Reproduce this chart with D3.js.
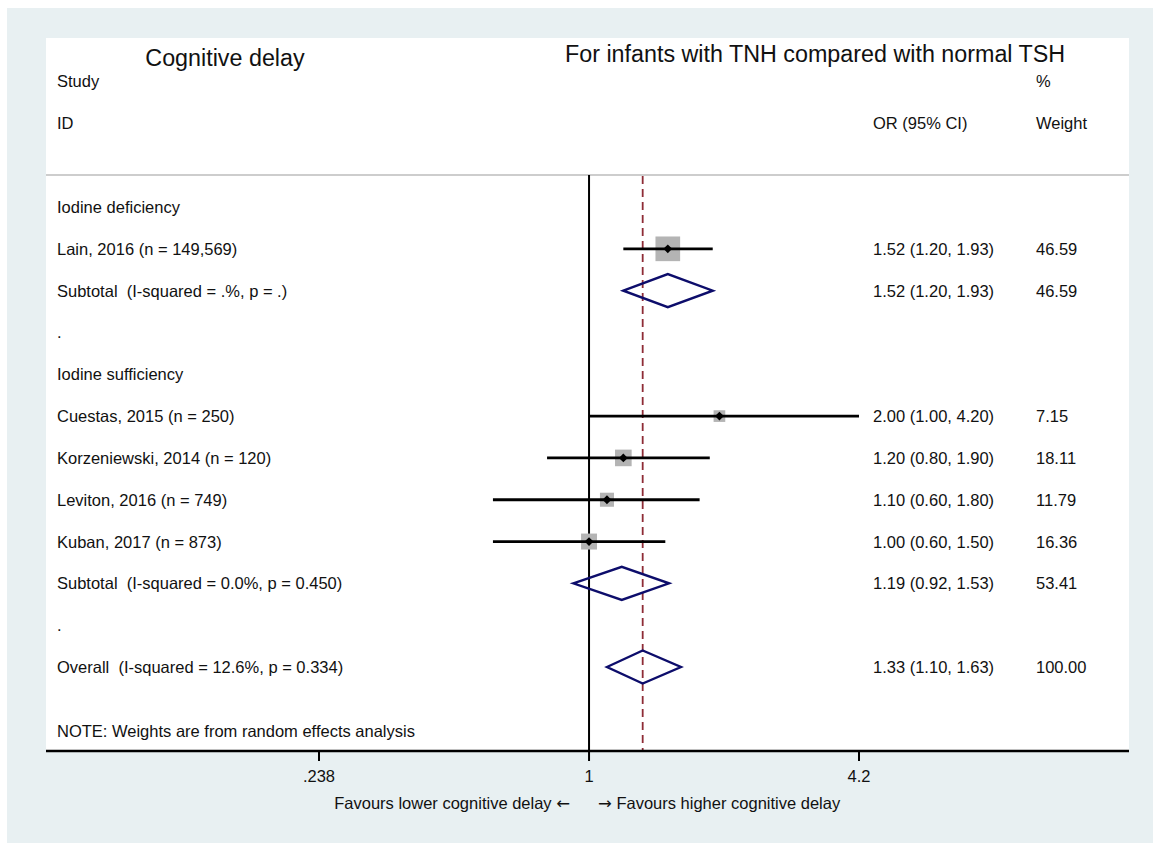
<!DOCTYPE html>
<html>
<head>
<meta charset="utf-8">
<script src="https://cdn.jsdelivr.net/npm/d3@7"></script>
<style>
  html, body { margin: 0; padding: 0; background: #ffffff; }
  svg { display: block; }
  text { font-family: "Liberation Sans", Arial, sans-serif; fill: #111; white-space: pre; }
  tspan.arrow { font-family: "DejaVu Sans", sans-serif; }
</style>
</head>
<body>
<svg id="chart" width="1153" height="843"></svg>
<script>
// Row labels, in display order
const rowLabels = [
  "Iodine deficiency",
  "Lain, 2016 (n = 149,569)",
  "Subtotal  (I-squared = .%, p = .)",
  ".",
  "Iodine sufficiency",
  "Cuestas, 2015 (n = 250)",
  "Korzeniewski, 2014 (n = 120)",
  "Leviton, 2016 (n = 749)",
  "Kuban, 2017 (n = 873)",
  "Subtotal  (I-squared = 0.0%, p = 0.450)",
  ".",
  "Overall  (I-squared = 12.6%, p = 0.334)"
];
// Row kind: h = heading, s = study, d = pooled diamond, b = blank
const rowKinds = ["h", "s", "d", "b", "h", "s", "s", "s", "s", "d", "b", "d"];
// Odds ratios with 95% CI (null for text-only rows)
const orEst   = [null, 1.52, 1.52, null, null, 2.00, 1.20, 1.10, 1.00, 1.19, null, 1.33];
const orLower = [null, 1.20, 1.20, null, null, 1.00, 0.80, 0.60, 0.60, 0.92, null, 1.10];
const orUpper = [null, 1.93, 1.93, null, null, 4.20, 1.90, 1.80, 1.50, 1.53, null, 1.63];
const weights = [null, 46.59, 46.59, null, null, 7.15, 18.11, 11.79, 16.36, 53.41, null, 100.00];
// Axis ticks
const tickValues = [0.238, 1, 4.2];
const tickLabels = [".238", "1", "4.2"];

const title = "Cognitive delay";
const subtitle = "For infants with TNH compared with normal TSH";
const note = "NOTE: Weights are from random effects analysis";
const xLabelLeft = "Favours lower cognitive delay ";
const xLabelRight = " Favours higher cognitive delay";

const svg = d3.select("#chart");
const W = 1153, H = 843;
const FS = "16.5px";

// Outer region and white plot region
svg.append("rect").attr("x", 7).attr("y", 8).attr("width", W - 7).attr("height", H - 8)
  .attr("fill", "#e8f0f2");
const plot = { left: 46, right: 1129, top: 38, bottom: 751 };
svg.append("rect").attr("x", plot.left).attr("y", plot.top)
  .attr("width", plot.right - plot.left).attr("height", plot.bottom - plot.top)
  .attr("fill", "#ffffff");

// Scales
const x = d3.scaleLog().domain([0.238, 4.2]).range([319, 859]);
const y = d3.scaleLinear().domain([0, 11]).range([207, 667]);
const boxSide = d3.scaleSqrt().domain([0, 100]).range([3.3, 34.6]);

const fmt = d3.format(".2f");
const colLeft = 57, colOR = 873, colW = 1036;

// Titles and column headers
svg.append("text").attr("x", 225).attr("y", 58).attr("text-anchor", "middle")
  .attr("dominant-baseline", "central").style("font-size", "23.3px").text(title);
svg.append("text").attr("x", 565).attr("y", 54).attr("dominant-baseline", "central")
  .style("font-size", "23.3px").text(subtitle);
const hdr = [
  [colLeft, 81, "Study"], [colLeft, 123, "ID"],
  [colOR, 123, "OR (95% CI)"], [colW, 81, "%"], [colW, 123, "Weight"]
];
svg.selectAll("text.hdr").data(hdr).join("text").attr("class", "hdr")
  .attr("x", d => d[0]).attr("y", d => d[1]).attr("dominant-baseline", "central")
  .style("font-size", FS).text(d => d[2]);

// Header separator
svg.append("line").attr("x1", plot.left).attr("x2", plot.right)
  .attr("y1", 175).attr("y2", 175).attr("stroke", "#bcbcbc").attr("stroke-width", 1.6);

// Null line and pooled-estimate line
svg.append("line").attr("x1", x(1)).attr("x2", x(1)).attr("y1", 175).attr("y2", plot.bottom)
  .attr("stroke", "#000").attr("stroke-width", 2);
svg.append("line").attr("x1", x(orEst[11])).attr("x2", x(orEst[11]))
  .attr("y1", 176).attr("y2", plot.bottom)
  .attr("stroke", "#8e2c36").attr("stroke-width", 1.8).attr("stroke-dasharray", "8,5");

const rows = rowLabels.map((label, i) => ({
  label, kind: rowKinds[i], est: orEst[i], lo: orLower[i], hi: orUpper[i], w: weights[i], i
}));

// Row labels
svg.selectAll("text.lab").data(rows).join("text").attr("class", "lab")
  .attr("x", colLeft).attr("y", d => y(d.i)).attr("dominant-baseline", "central")
  .style("font-size", FS).text(d => d.label);

const est = rows.filter(d => d.est !== null);
svg.selectAll("text.or").data(est).join("text").attr("class", "or")
  .attr("x", colOR).attr("y", d => y(d.i)).attr("dominant-baseline", "central")
  .style("font-size", FS)
  .text(d => `${fmt(d.est)} (${fmt(d.lo)}, ${fmt(d.hi)})`);
svg.selectAll("text.wt").data(est).join("text").attr("class", "wt")
  .attr("x", colW).attr("y", d => y(d.i)).attr("dominant-baseline", "central")
  .style("font-size", FS).text(d => fmt(d.w));

// Study estimates: weighted boxes, CI lines, point markers
const studies = rows.filter(d => d.kind === "s");
svg.selectAll("rect.box").data(studies).join("rect").attr("class", "box")
  .attr("x", d => x(d.est) - boxSide(d.w) / 2).attr("y", d => y(d.i) - boxSide(d.w) / 2)
  .attr("width", d => boxSide(d.w)).attr("height", d => boxSide(d.w))
  .attr("fill", "#b4b4b4");
svg.selectAll("line.ci").data(studies).join("line").attr("class", "ci")
  .attr("x1", d => x(d.lo)).attr("x2", d => x(d.hi))
  .attr("y1", d => y(d.i)).attr("y2", d => y(d.i))
  .attr("stroke", "#000").attr("stroke-width", 2.8);
svg.selectAll("path.pt").data(studies).join("path").attr("class", "pt")
  .attr("d", d => {
    const cx = x(d.est), cy = y(d.i), r = 4.4;
    return `M${cx},${cy - r}L${cx + r},${cy}L${cx},${cy + r}L${cx - r},${cy}Z`;
  })
  .attr("fill", "#000");

// Pooled estimates as diamonds
const pooled = rows.filter(d => d.kind === "d");
svg.selectAll("path.dia").data(pooled).join("path").attr("class", "dia")
  .attr("d", d => {
    const cy = y(d.i), h = 16.5;
    return `M${x(d.lo)},${cy}L${x(d.est)},${cy - h}L${x(d.hi)},${cy}L${x(d.est)},${cy + h}Z`;
  })
  .attr("fill", "none").attr("stroke", "#0d0d6b").attr("stroke-width", 2.4)
  .attr("stroke-linejoin", "miter");

// Note
svg.append("text").attr("x", colLeft).attr("y", 731).attr("dominant-baseline", "central")
  .style("font-size", FS).text(note);

// X axis
const axis = svg.append("g").attr("transform", `translate(0,${plot.bottom})`);
axis.append("line").attr("x1", plot.left).attr("x2", plot.right)
  .attr("stroke", "#000").attr("stroke-width", 2.4);
const ticks = axis.selectAll("g.tick").data(tickValues).join("g").attr("class", "tick")
  .attr("transform", d => `translate(${x(d)},0)`);
ticks.append("line").attr("y1", 0).attr("y2", 10).attr("stroke", "#000").attr("stroke-width", 2);
ticks.append("text").attr("y", 25).attr("text-anchor", "middle").attr("dominant-baseline", "central")
  .style("font-size", FS).text((d, i) => tickLabels[i]);

// Direction labels under the axis
const tl = svg.append("text").attr("x", 570).attr("y", 803).attr("text-anchor", "end")
  .attr("dominant-baseline", "central").style("font-size", FS);
tl.append("tspan").text(xLabelLeft);
tl.append("tspan").attr("class", "arrow").text("\u2190");
const tr = svg.append("text").attr("x", 598).attr("y", 803)
  .attr("dominant-baseline", "central").style("font-size", FS);
tr.append("tspan").attr("class", "arrow").text("\u2192");
tr.append("tspan").text(xLabelRight);
</script>
</body>
</html>
